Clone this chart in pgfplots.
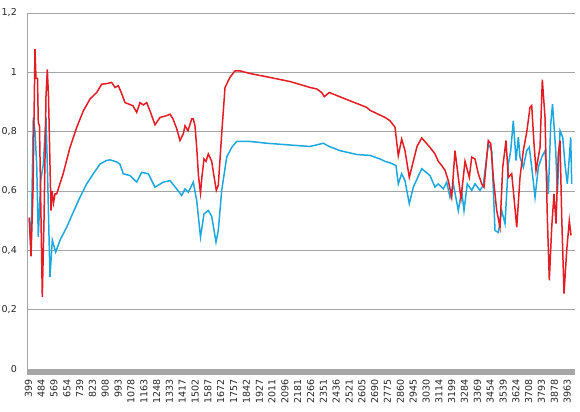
\documentclass[border=0pt]{standalone}
\usepackage{pgfplots}
\pgfplotsset{compat=1.18}
\usepackage{fontspec}
\setmainfont{DejaVu Sans}
\definecolor{redline}{RGB}{228,28,36}
\definecolor{blueline}{RGB}{28,168,222}
\definecolor{gridgray}{RGB}{165,165,165}
\begin{document}
\begin{tikzpicture}
\begin{axis}[
  name=ax,
  scale only axis,
  width=548bp, height=356bp,
  xmin=390.4, xmax=4014.9,
  ymin=0, ymax=1.2,
  axis x line*=bottom,
  x axis line style={draw=none},
  axis y line*=left,
  y axis line style={draw=gridgray, line width=0.8bp},
  ytick={0,0.2,0.4,0.6,0.8,1,1.2},
  yticklabels={0,{0,2},{0,4},{0,6},{0,8},1,{1,2}},
  ymajorgrids,
  grid style={draw=gridgray, line width=0.8bp},
  xtick={399,484,569,654,739,823,908,993,1078,1163,1248,1333,1417,1502,1587,1672,1757,1842,1927,2011,2096,2181,2266,2351,2436,2521,2605,2690,2775,2860,2945,3030,3114,3199,3284,3369,3454,3539,3624,3708,3793,3878,3963},
  xticklabels={399,484,569,654,739,823,908,993,1078,1163,1248,1333,1417,1502,1587,1672,1757,1842,1927,2011,2096,2181,2266,2351,2436,2521,2605,2690,2775,2860,2945,3030,3114,3199,3284,3369,3454,3539,3624,3708,3793,3878,3963},
  tick align=outside,
  major tick length=10bp,
  tick style={draw=none},
  ticklabel style={font=\fontsize{9.5bp}{11bp}\selectfont, text=black!85, inner sep=0pt},
  yticklabel style={anchor=east},
  xticklabel style={rotate=90, anchor=east},
  clip=false,
]
\fill[gray!70] ([yshift=-0.5bp]rel axis cs:0,0) rectangle ([yshift=-5.5bp]rel axis cs:1,0);
\addplot[blueline, line width=1.5bp] table {
x y
405.6 0.51
416.9 0.40
432.1 0.848
443.3 0.80
454.6 0.69
465.1 0.445
481 0.635
498.2 0.69
516.1 0.848
524.7 0.69
542.5 0.31
557.7 0.434
580.2 0.394
608.7 0.434
653 0.478
696.6 0.529
740.9 0.579
785.3 0.624
828.9 0.658
873.2 0.691
917.5 0.703
939.4 0.705
983.7 0.698
1005.5 0.69
1027.3 0.658
1071.6 0.652
1115.9 0.63
1149 0.663
1192.7 0.658
1237 0.613
1291.9 0.63
1336.2 0.635
1380.5 0.607
1413.6 0.585
1435.4 0.607
1457.3 0.596
1490.3 0.63
1512.8 0.568
1537.9 0.445
1561.1 0.523
1589.5 0.534
1612 0.515
1640.5 0.428
1655.7 0.467
1678.2 0.602
1711.3 0.714
1744.3 0.747
1777.4 0.767
1865.4 0.767
1975.8 0.761
2129.9 0.755
2262.2 0.75
2350.2 0.761
2389.8 0.75
2460.6 0.736
2571.1 0.723
2659 0.72
2725.2 0.708
2758.2 0.70
2791.2 0.695
2830.9 0.686
2846.2 0.624
2868.6 0.658
2890.4 0.635
2918.9 0.557
2945.4 0.613
3000.9 0.675
3055.8 0.652
3088.9 0.613
3110.7 0.624
3143.8 0.607
3166.2 0.63
3188.1 0.579
3209.9 0.624
3243.1 0.534
3265.5 0.602
3280.7 0.534
3302.5 0.624
3331.7 0.602
3353.5 0.624
3386.6 0.602
3408.4 0.62
3441.5 0.759
3464 0.736
3485.8 0.467
3507.7 0.46
3530.1 0.534
3552 0.49
3573.8 0.69
3589.7 0.736
3606.9 0.837
3624.8 0.703
3640.1 0.781
3651.2 0.714
3673.1 0.68
3695.5 0.736
3712.7 0.748
3728.6 0.68
3750.5 0.579
3772.3 0.68
3794.8 0.714
3816.6 0.736
3838.5 0.59
3854.4 0.826
3866.3 0.893
3887.4 0.736
3898 0.59
3915.8 0.803
3933.6 0.781
3948.8 0.69
3964 0.624
3977.3 0.714
3986.5 0.781
3993.1 0.624
};
\addplot[redline, line width=1.5bp] table {
x y
405.6 0.51
416.9 0.38
430 0.60
443.3 1.078
449.9 0.98
459.8 0.98
465.1 0.83
473 0.82
491.6 0.243
502.8 0.50
516.1 0.92
524.7 1.01
532.6 0.92
549.1 0.534
555.8 0.60
565.7 0.56
575.6 0.59
586.8 0.59
630.5 0.66
674.8 0.747
719.1 0.814
762.8 0.87
807.1 0.91
851.4 0.932
884.5 0.96
917.5 0.962
950.6 0.966
972.4 0.949
994.3 0.955
1015.4 0.93
1038.6 0.898
1058.4 0.894
1091.5 0.887
1115.9 0.865
1137.8 0.898
1159.6 0.89
1182.1 0.898
1203.9 0.87
1237 0.823
1270.1 0.848
1314.4 0.854
1336.2 0.859
1356 0.843
1380.5 0.81
1402.3 0.77
1424.2 0.793
1435.4 0.82
1455.3 0.803
1479.7 0.843
1490.3 0.843
1501.5 0.82
1512.8 0.747
1524.7 0.65
1537.9 0.593
1547.9 0.65
1561.1 0.708
1574.3 0.70
1589.5 0.725
1612 0.70
1627.2 0.65
1642.4 0.602
1655.7 0.62
1678.2 0.793
1700 0.949
1733.1 0.983
1766.1 1.005
1799.2 1.005
1865.4 0.996
1975.8 0.985
2129.9 0.969
2262.2 0.949
2306.5 0.944
2339.5 0.932
2356.7 0.918
2389.8 0.932
2526.7 0.904
2637.2 0.882
2659 0.872
2758.2 0.848
2791.2 0.837
2824.3 0.815
2846.2 0.719
2868.6 0.775
2890.4 0.736
2918.9 0.646
2945.4 0.70
2969.8 0.75
3000.9 0.779
3055.8 0.747
3088.9 0.725
3110.7 0.70
3133.2 0.686
3155 0.67
3176.9 0.635
3199.4 0.579
3221.2 0.736
3243.1 0.646
3260.9 0.574
3287.4 0.70
3315.8 0.646
3331.7 0.714
3353.5 0.708
3375.4 0.658
3397.9 0.624
3413.1 0.613
3441.5 0.77
3457.4 0.76
3474.6 0.646
3497.1 0.534
3518.9 0.478
3536.8 0.68
3558.6 0.77
3573.8 0.646
3596.3 0.658
3606.9 0.602
3629.4 0.478
3651.2 0.646
3673.1 0.736
3695.5 0.798
3717.4 0.882
3728.6 0.888
3743.8 0.759
3757 0.669
3783.5 0.747
3798.7 0.975
3816.6 0.848
3831.8 0.512
3845 0.299
3860.9 0.478
3876.1 0.59
3889.3 0.49
3904.5 0.725
3915.8 0.77
3927 0.512
3942.2 0.254
3960.1 0.40
3977.3 0.50
3988.5 0.45
};
\end{axis}
\pgfresetboundingbox
\path[use as bounding box] ([shift={(-27bp,-43bp)}]ax.south west) rectangle ([shift={(5bp,13bp)}]ax.north east);
\end{tikzpicture}
\end{document}
